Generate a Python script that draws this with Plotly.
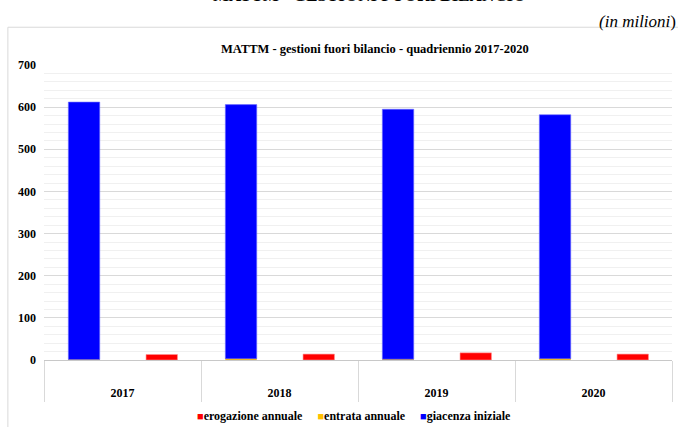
import plotly.graph_objects as go

# MATTM off-budget management, four-year period 2017-2020 (values in millions)
years = ["2017", "2018", "2019", "2020"]
entrata_annuale = [1, 3, 2, 3]
giacenza_iniziale = [611, 603, 593, 579]
erogazione_annuale = [13, 14, 17, 14]

SERIF = "Liberation Serif"
BAR_W = 0.2
COL_ENTRATA = "#FFC000"
COL_GIACENZA = "#0000FF"
COL_EROGAZIONE = "#FF0000"

fig = go.Figure()

# left column: yearly inflow with the opening balance stacked on top
fig.add_trace(go.Bar(
    x=years, y=entrata_annuale, name="entrata annuale",
    marker=dict(color=COL_ENTRATA, line=dict(width=0)),
    width=BAR_W, offset=-0.345,
))
fig.add_trace(go.Bar(
    x=years, y=giacenza_iniziale, base=entrata_annuale, name="giacenza iniziale",
    marker=dict(color=COL_GIACENZA, line=dict(color="#6f6fff", width=0.6)),
    width=BAR_W, offset=-0.345,
))
# right column: yearly disbursements
fig.add_trace(go.Bar(
    x=years, y=erogazione_annuale, name="erogazione annuale",
    marker=dict(color=COL_EROGAZIONE, line=dict(color="#ff9090", width=0.6)),
    width=BAR_W, offset=0.15,
))

# compact legend row under the category axis
def key(color, label):
    return (f"<span style='color:{color};font-size:11px'>■</span><b>{label}</b>")

legend_text = "&nbsp;&nbsp;&nbsp;&nbsp;&nbsp;".join([
    key(COL_EROGAZIONE, "erogazione annuale"),
    key(COL_ENTRATA, "entrata annuale"),
    key(COL_GIACENZA, "giacenza iniziale"),
])

fig.update_layout(
    width=678, height=427,
    margin=dict(l=44, r=6, t=65, b=67, autoexpand=False),
    paper_bgcolor="white", plot_bgcolor="white",
    barmode="overlay",
    showlegend=False,
    font=dict(family=SERIF, color="#000"),
    shapes=[
        # chart frame
        dict(type="rect", xref="paper", yref="paper",
             x0=-0.0575, x1=1.2, y0=-0.4, y1=1.128,
             line=dict(color="#d9d9d9", width=1), layer="below"),
    ],
    annotations=[
        dict(text="<b>MATTM - GESTIONI FUORI BILANCIO</b>", xref="paper", yref="paper",
             x=0.519, y=1.195, xanchor="center", yanchor="bottom", showarrow=False,
             font=dict(family=SERIF, size=17, color="#000")),
        dict(text="<i>(in milioni</i>)", xref="paper", yref="paper",
             x=1.009, y=1.11, xanchor="right", yanchor="bottom", showarrow=False,
             font=dict(family=SERIF, size=17, color="#000")),
        dict(text="<b>MATTM - gestioni fuori bilancio - quadriennio 2017-2020</b>",
             xref="paper", yref="paper", x=0.527, y=1.054, xanchor="center",
             yanchor="middle", showarrow=False,
             font=dict(family=SERIF, size=12.5, color="#000")),
        dict(text=legend_text, xref="paper", yref="paper",
             x=0.494, y=-0.19, xanchor="center", yanchor="middle", showarrow=False,
             font=dict(family=SERIF, size=12, color="#000")),
    ],
)

fig.update_xaxes(
    type="category", range=[-0.5, 3.5], automargin=False,
    showline=True, linecolor="#c8c8c8", linewidth=1,
    showgrid=False,
    tickson="boundaries", ticks="outside", ticklen=41,
    tickcolor="#d9d9d9", tickwidth=1,
    ticklabelstandoff=22,
    tickfont=dict(family=SERIF, size=12, color="#000", weight="bold"),
)
fig.update_yaxes(
    range=[0, 700], dtick=100, automargin=False,
    showgrid=True, gridcolor="#d9d9d9", gridwidth=1,
    minor=dict(dtick=20, showgrid=True, gridcolor="#f0f0f0", gridwidth=1),
    zeroline=False, showline=False, ticks="",
    ticklabelstandoff=7,
    tickfont=dict(family=SERIF, size=12, color="#000", weight="bold"),
)

fig.write_html("out.html")
